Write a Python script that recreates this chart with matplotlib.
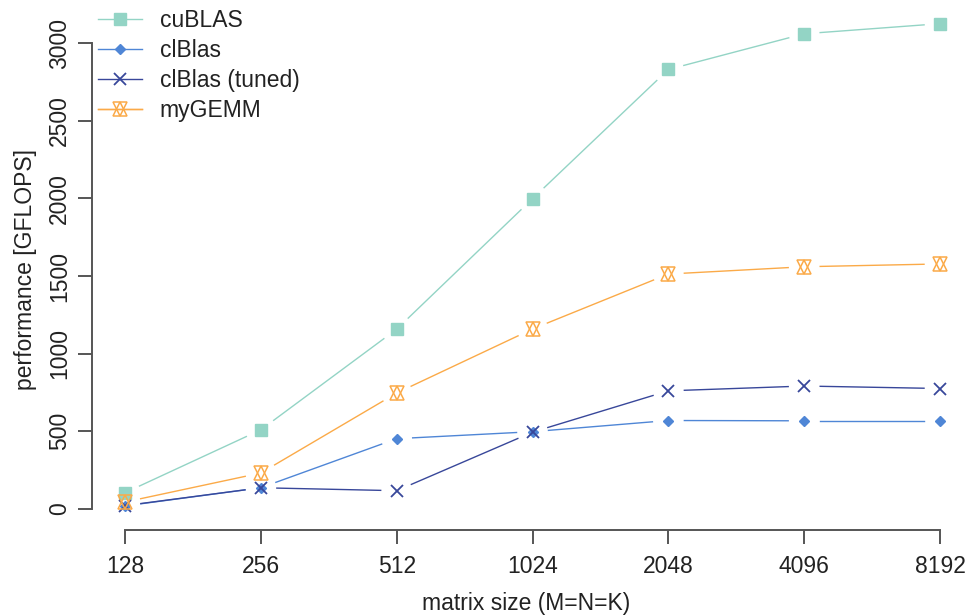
import numpy as np
import matplotlib
matplotlib.use("Agg")
import matplotlib.pyplot as plt
from matplotlib.lines import Line2D
from matplotlib.legend_handler import HandlerTuple

plt.rcParams['font.family'] = ['Liberation Sans', 'DejaVu Sans']

sizes = ['128', '256', '512', '1024', '2048', '4096', '8192']
cublas = [105, 510, 1158, 1998, 2830, 3060, 3125]
clblas = [20, 137, 453, 498, 570, 568, 568]
clblas_tuned = [22, 137, 118, 495, 761, 792, 776]
mygemm = [45, 232, 747, 1159, 1513, 1560, 1578]

c_cu = '#93d4c5'
c_cl = '#4f86d6'
c_tu = '#38479a'
c_my = '#fbaa48'
axc = '#555555'
txc = '#222222'
fs = 16.5

W, H = 968, 616
ax_box = [92, 86, 960 - 92, 530 - 10]   # left, bottom, width, height in px
xlim = (-0.243, 6.147)
ylim = (-135, 3213)

fig = plt.figure(figsize=(W/100, H/100), dpi=100)
ax = fig.add_axes([ax_box[0]/W, ax_box[1]/H, ax_box[2]/W, ax_box[3]/H])
ax.set_xlim(*xlim)
ax.set_ylim(*ylim)
ax.set_autoscale_on(False)

xs = np.arange(len(sizes))
sx = ax_box[2] / (xlim[1] - xlim[0])   # px per x unit
sy = ax_box[3] / (ylim[1] - ylim[0])   # px per y unit


def gapped(ys, color, gap=16):
    # R style type="b": line pieces stop short of the points
    px = np.column_stack([xs * sx, np.asarray(ys, float) * sy])
    for i in range(len(xs) - 1):
        p, q = px[i], px[i + 1]
        d = q - p
        n = np.hypot(*d)
        if n <= 2*gap:
            continue
        u = d/n
        a = (p + u*gap) / [sx, sy]
        b = (q - u*gap) / [sx, sy]
        ax.add_line(Line2D([a[0], b[0]], [a[1], b[1]], color=color, lw=1.0))


gapped(cublas, c_cu)
ax.plot(xs, cublas, ls='none', marker='s', ms=8, color=c_cu, mec=c_cu)
gapped(clblas, c_cl)
ax.plot(xs, clblas, ls='none', marker='D', ms=5.5, color=c_cl, mec=c_cl)
gapped(clblas_tuned, c_tu)
ax.plot(xs, clblas_tuned, ls='none', marker='x', ms=9, mew=1.3, color=c_tu)
gapped(mygemm, c_my)
ax.plot(xs, mygemm, ls='none', marker='^', ms=10, mfc='none', mew=1.1, color=c_my)
ax.plot(xs, mygemm, ls='none', marker='v', ms=10, mfc='none', mew=1.1, color=c_my)

for s in ['top', 'right']:
    ax.spines[s].set_visible(False)
ax.spines['left'].set_bounds(0, 3000)
ax.spines['bottom'].set_bounds(0, 6)
for s in ['left', 'bottom']:
    ax.spines[s].set_color(axc)
    ax.spines[s].set_linewidth(1.4)

ax.set_xticks(xs)
ax.set_xticklabels(sizes)
ax.set_yticks(np.arange(0, 3001, 500))
ax.set_yticklabels([str(v) for v in range(0, 3001, 500)], rotation=90, va='center')
ax.tick_params(axis='both', length=10, width=1.4, color=axc, labelsize=fs, labelcolor=txc)
ax.tick_params(axis='x', pad=8)
ax.tick_params(axis='y', pad=5)

ax.set_xlabel('matrix size (M=N=K)', fontsize=fs, color=txc, labelpad=10)
ax.set_ylabel('performance [GFLOPS]', fontsize=fs, color=txc, labelpad=8)

h_cu = Line2D([], [], color=c_cu, lw=1.0, marker='s', ms=8)
h_cl = Line2D([], [], color=c_cl, lw=1.0, marker='D', ms=5.5)
h_tu = Line2D([], [], color=c_tu, lw=1.0, marker='x', ms=9, mew=1.3)
h_my1 = Line2D([], [], color=c_my, lw=1.0, marker='^', ms=10, mfc='none', mew=1.1)
h_my2 = Line2D([], [], color=c_my, lw=1.0, marker='v', ms=10, mfc='none', mew=1.1)
leg = fig.legend([h_cu, h_cl, h_tu, (h_my1, h_my2)],
                 ['cuBLAS', 'clBlas', 'clBlas (tuned)', 'myGEMM'],
                 handler_map={tuple: HandlerTuple(ndivide=1, pad=0)},
                 loc='upper left', bbox_to_anchor=(82/W, 1 + 7/H),
                 frameon=False, fontsize=fs, handlelength=1.9,
                 handletextpad=0.8, labelspacing=0.3, borderpad=0.2)
for t in leg.get_texts():
    t.set_color(txc)

fig.savefig('out.png', dpi=100)
